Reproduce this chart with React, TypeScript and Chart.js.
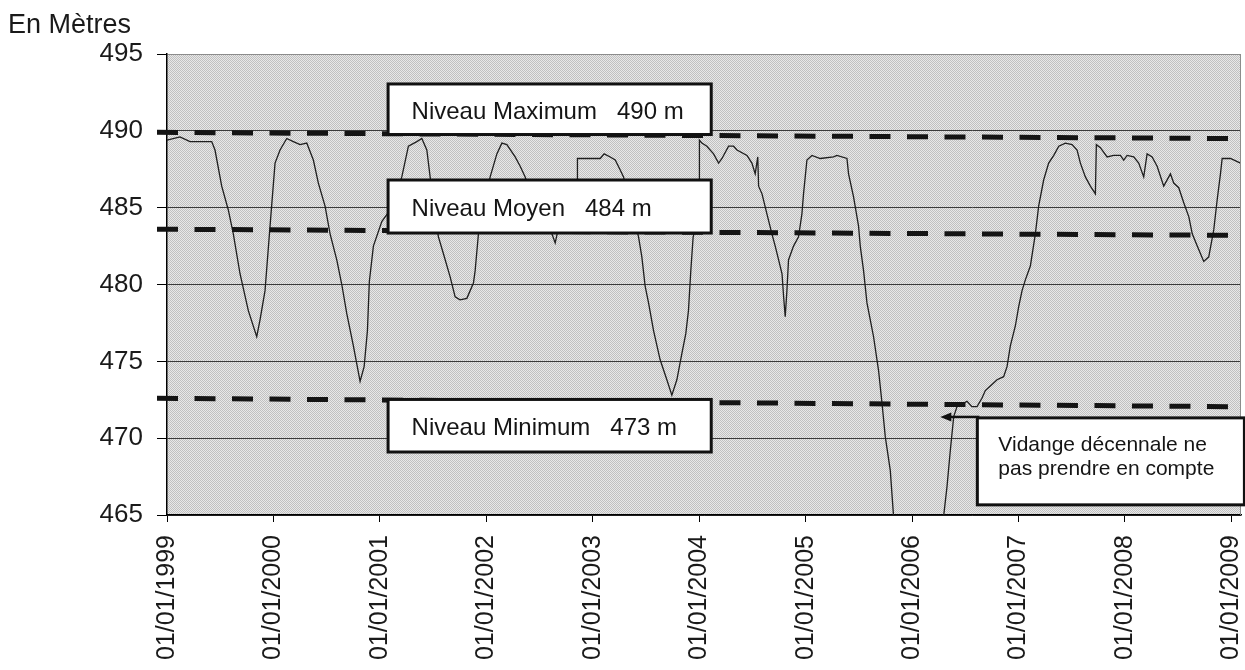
import React, { useEffect, useRef } from "react";
import { Chart, registerables } from "chart.js";

Chart.register(...registerables);

const FONT = '"Liberation Sans", Arial, Helvetica, sans-serif';

// Decimal-year dates of each reading
const dates = [
  1999.0, 1999.122, 1999.216, 1999.42, 1999.451, 1999.514, 1999.576, 1999.623, 1999.686, 1999.764,
  1999.843, 1999.874, 1999.921, 1999.968, 2000.015, 2000.062, 2000.125, 2000.187, 2000.25, 2000.313,
  2000.375, 2000.422, 2000.485, 2000.532, 2000.595, 2000.642, 2000.689, 2000.751, 2000.814, 2000.852,
  2000.883, 2000.901, 2000.939, 2001.018, 2001.08, 2001.143, 2001.206, 2001.268, 2001.347, 2001.394,
  2001.441, 2001.472, 2001.509, 2001.55, 2001.597, 2001.66, 2001.707, 2001.753, 2001.817, 2001.879,
  2001.895, 2001.926, 2001.979, 2002.036, 2002.099, 2002.146, 2002.193, 2002.271, 2002.318, 2002.365,
  2002.459, 2002.553, 2002.616, 2002.647, 2002.675, 2002.788, 2002.853, 2002.856, 2003.07, 2003.107,
  2003.164, 2003.211, 2003.258, 2003.289, 2003.361, 2003.43, 2003.461, 2003.492, 2003.524, 2003.571,
  2003.633, 2003.696, 2003.743, 2003.79, 2003.837, 2003.874, 2003.899, 2003.921, 2003.943, 2003.999,
  2004.002, 2004.025, 2004.072, 2004.135, 2004.182, 2004.214, 2004.276, 2004.323, 2004.355, 2004.449,
  2004.495, 2004.526, 2004.55, 2004.558, 2004.59, 2004.636, 2004.683, 2004.714, 2004.746, 2004.778,
  2004.793, 2004.808, 2004.824, 2004.839, 2004.886, 2004.933, 2004.965, 2004.98, 2005.012, 2005.059,
  2005.137, 2005.262, 2005.294, 2005.388, 2005.403, 2005.45, 2005.497, 2005.513, 2005.544, 2005.576,
  2005.638, 2005.685, 2005.717, 2005.748, 2005.795, 2005.826, 2005.889, 2006.03, 2006.218, 2006.274,
  2006.296, 2006.328, 2006.359, 2006.391, 2006.422, 2006.516, 2006.562, 2006.61, 2006.656, 2006.688,
  2006.735, 2006.798, 2006.86, 2006.892, 2006.923, 2006.97, 2007.001, 2007.033, 2007.064, 2007.111,
  2007.158, 2007.189, 2007.236, 2007.283, 2007.331, 2007.378, 2007.44, 2007.503, 2007.55, 2007.581,
  2007.628, 2007.675, 2007.722, 2007.731, 2007.769, 2007.832, 2007.894, 2007.957, 2007.988, 2008.02,
  2008.082, 2008.129, 2008.176, 2008.208, 2008.255, 2008.302, 2008.364, 2008.427, 2008.458, 2008.505,
  2008.553, 2008.6, 2008.632, 2008.679, 2008.74, 2008.787, 2008.834, 2008.866, 2008.897, 2008.913,
  2008.991, 2009.085,
];

// Water level (m)
const levels = [
  489.4, 489.6, 489.3, 489.3, 488.75, 486.4, 484.85, 483.3, 480.7, 478.3,
  476.6, 477.7, 479.6, 483.8, 487.9, 488.75, 489.5, 489.3, 489.1, 489.2,
  488.1, 486.6, 485.1, 483.3, 481.6, 480.0, 478.1, 476.0, 473.7, 474.65,
  477.0, 480.2, 482.5, 484.1, 484.7, 485.8, 487.0, 489.0, 489.3, 489.5,
  488.75, 487.0, 484.8, 483.1, 482.0, 480.5, 479.2, 479.0, 479.1, 480.1,
  480.9, 483.3, 485.3, 487.0, 488.5, 489.2, 489.1, 488.3, 487.7, 487.0,
  485.0, 484.0, 483.3, 482.7, 483.6, 484.5, 484.5, 488.2, 488.2, 488.5,
  488.3, 488.1, 487.45, 487.0, 485.0, 483.1, 481.8, 479.9, 478.8, 477.0,
  475.1, 473.8, 472.8, 473.8, 475.5, 476.8, 478.3, 480.9, 483.1, 484.5,
  489.4, 489.2, 489.0, 488.5, 487.9, 488.2, 489.0, 489.0, 488.75, 488.4,
  487.9, 487.2, 488.3, 486.4, 485.9, 484.6, 483.3, 482.5, 481.6, 480.7,
  479.2, 477.9, 479.6, 481.6, 482.5, 483.1, 484.6, 485.9, 488.1, 488.4,
  488.2, 488.3, 488.4, 488.2, 487.2, 485.7, 483.8, 482.5, 480.9, 478.8,
  476.6, 474.4, 472.3, 470.1, 467.9, 464.9, 460.5, 456.0, 458.0, 462.5,
  464.9, 466.85, 469.2, 471.4, 472.05, 472.4, 472.05, 472.05, 472.6, 473.1,
  473.4, 473.8, 474.0, 474.65, 476.0, 477.3, 478.55, 479.6, 480.3, 481.2,
  483.3, 485.1, 486.8, 487.9, 488.4, 489.0, 489.2, 489.1, 488.75, 487.9,
  487.0, 486.4, 485.9, 489.1, 488.9, 488.3, 488.4, 488.4, 488.1, 488.4,
  488.3, 487.9, 487.0, 488.5, 488.3, 487.7, 486.4, 487.2, 486.6, 486.3,
  485.3, 484.4, 483.3, 482.5, 481.5, 481.8, 483.55, 485.5, 487.2, 488.2,
  488.2, 487.9,
];

const yearTicks = [1999, 2000, 2001, 2002, 2003, 2004, 2005, 2006, 2007, 2008, 2009];
const levelTicks = [465, 470, 475, 480, 485, 490, 495];

// Reference levels (hand-drawn dashed lines, slightly sloped)
const refLabels = ["Niveau Maximum   490 m", "Niveau Moyen   484 m", "Niveau Minimum   473 m"];
const refStart = [489.9, 483.6, 472.6];
const refEnd = [489.5, 483.2, 472.05];
const refSpan = [1998.906, 2008.972];

// Label boxes (in data units)
const boxSpan = [2001.077, 2004.113];
const boxTop = [493.05, 486.8, 472.52];
const boxBottom = [489.76, 483.35, 469.1];

const noteLines = ["Vidange décennale ne", "pas prendre en compte"];
const noteSpan = [2006.613, 2009.122];
const noteTop = 471.32;
const noteBottom = 465.66;
const arrowTip = [2006.265, 471.38];

const yTitle = "En Mètres";

function makePattern(ctx: CanvasRenderingContext2D) {
  const c = document.createElement("canvas");
  c.width = 2;
  c.height = 2;
  const g = c.getContext("2d")!;
  g.fillStyle = "#e8e8e8";
  g.fillRect(0, 0, 2, 2);
  g.fillStyle = "#c0c0c0";
  g.fillRect(0, 0, 1, 1);
  g.fillRect(1, 1, 1, 1);
  return ctx.createPattern(c, "repeat");
}

const decorPlugin = {
  id: "decor",
  beforeDraw(chart: any) {
    const { ctx, chartArea: a } = chart;
    ctx.save();
    ctx.fillStyle = makePattern(ctx) || "#d4d4d4";
    ctx.fillRect(a.left, a.top, a.right - a.left, a.bottom - a.top);
    ctx.restore();
  },
  afterDatasetsDraw(chart: any) {
    const { ctx, chartArea: a } = chart;
    const xs = chart.scales.x;
    const ys = chart.scales.y;
    ctx.save();
    // right border of plot
    ctx.strokeStyle = "#8c8c8c";
    ctx.lineWidth = 1;
    ctx.beginPath();
    ctx.moveTo(a.right - 0.5, a.top);
    ctx.lineTo(a.right - 0.5, a.bottom);
    ctx.stroke();

    // label boxes
    const l = xs.getPixelForValue(boxSpan[0]);
    const r = xs.getPixelForValue(boxSpan[1]);
    for (let i = 0; i < refLabels.length; i++) {
      const t = ys.getPixelForValue(boxTop[i]);
      const b = ys.getPixelForValue(boxBottom[i]);
      ctx.fillStyle = "#ffffff";
      ctx.fillRect(l, t, r - l, b - t);
      ctx.lineWidth = 3;
      ctx.strokeStyle = "#111111";
      ctx.strokeRect(l, t, r - l, b - t);
      ctx.fillStyle = "#151515";
      ctx.font = `24px ${FONT}`;
      ctx.textBaseline = "alphabetic";
      ctx.textAlign = "left";
      ctx.fillText(refLabels[i], l + 23.5, t + 35.5);
    }

    // note box
    const nl = xs.getPixelForValue(noteSpan[0]);
    const nr = xs.getPixelForValue(noteSpan[1]);
    const nt = ys.getPixelForValue(noteTop);
    const nb = ys.getPixelForValue(noteBottom);
    ctx.fillStyle = "#ffffff";
    ctx.fillRect(nl, nt, nr - nl, nb - nt);
    ctx.lineWidth = 3;
    ctx.strokeStyle = "#111111";
    ctx.strokeRect(nl, nt, nr - nl, nb - nt);
    ctx.fillStyle = "#151515";
    ctx.font = `21px ${FONT}`;
    ctx.fillText(noteLines[0], nl + 21, nt + 33.5);
    ctx.fillText(noteLines[1], nl + 21, nt + 57);

    // arrow
    const tx = xs.getPixelForValue(arrowTip[0]);
    const ty = ys.getPixelForValue(arrowTip[1]);
    ctx.strokeStyle = "#111111";
    ctx.lineWidth = 2.5;
    ctx.beginPath();
    ctx.moveTo(nl + 2, ty);
    ctx.lineTo(tx + 8, ty);
    ctx.stroke();
    ctx.fillStyle = "#111111";
    ctx.beginPath();
    ctx.moveTo(tx, ty);
    ctx.lineTo(tx + 11, ty - 4.5);
    ctx.lineTo(tx + 11, ty + 4.5);
    ctx.closePath();
    ctx.fill();

    // axis title
    ctx.fillStyle = "#1a1a1a";
    ctx.font = `27px ${FONT}`;
    ctx.textAlign = "left";
    ctx.fillText(yTitle, 8, 33);
    ctx.restore();
  },
};

export default function App() {
  const ref = useRef<HTMLCanvasElement | null>(null);

  useEffect(() => {
    if (!ref.current) return;
    const main = {
      data: dates.map((d, i) => ({ x: d, y: levels[i] })),
      borderColor: "#1e1e1e",
      borderWidth: 1.3,
      pointRadius: 0,
      tension: 0,
      order: 5,
    };
    const refs = refLabels.map((_, i) => ({
      data: [
        { x: refSpan[0], y: refStart[i] },
        { x: refSpan[1], y: refEnd[i] },
      ],
      borderColor: "#141414",
      borderWidth: 5,
      borderDash: [21, 16.5],
      pointRadius: 0,
      tension: 0,
      clip: false as any,
      order: 1,
    }));
    const chart = new Chart(ref.current, {
      type: "line",
      data: { datasets: [main, ...refs] as any },
      plugins: [decorPlugin],
      options: {
        animation: false,
        responsive: false,
        devicePixelRatio: 1,
        layout: { padding: { left: 0, top: 54, right: 4, bottom: 0 } },
        plugins: { legend: { display: false }, tooltip: { enabled: false } },
        scales: {
          x: {
            type: "linear",
            min: 1999,
            max: 2009.09,
            afterBuildTicks: (s: any) => {
              s.ticks = yearTicks.map((v) => ({ value: v }));
            },
            afterFit: (s: any) => {
              s.height = 155;
              s.paddingLeft = 0;
              s.paddingRight = 0;
            },
            ticks: {
              autoSkip: false,
              minRotation: 90,
              maxRotation: 90,
              padding: 13,
              color: "#1a1a1a",
              font: { family: FONT, size: 25 },
              callback: (v: any) => "01/01/" + v,
            },
            grid: {
              drawOnChartArea: false,
              drawTicks: true,
              tickLength: 7,
              tickColor: "#000",
            },
            border: { display: true, color: "#000", width: 1.5 },
          },
          y: {
            min: 465,
            max: 495,
            afterBuildTicks: (s: any) => {
              s.ticks = levelTicks.map((v) => ({ value: v }));
            },
            afterFit: (s: any) => {
              s.width = 167;
              s.paddingTop = 0;
              s.paddingBottom = 0;
            },
            ticks: {
              padding: 14,
              color: "#1a1a1a",
              font: { family: FONT, size: 26 },
            },
            grid: {
              color: (c: any) => (c.tick && c.tick.value === 495 ? "#8c8c8c" : "#3a3a3a"),
              lineWidth: 1,
              tickLength: 10,
              tickColor: "#000",
            },
            border: { display: true, color: "#000", width: 1.5 },
          },
        },
      } as any,
    });
    return () => chart.destroy();
  }, []);

  return (
    <div style={{ position: "absolute", left: 0, top: 0, width: 1245, height: 670, background: "#fff" }}>
      <canvas ref={ref} width={1245} height={670} style={{ display: "block" }} />
    </div>
  );
}
